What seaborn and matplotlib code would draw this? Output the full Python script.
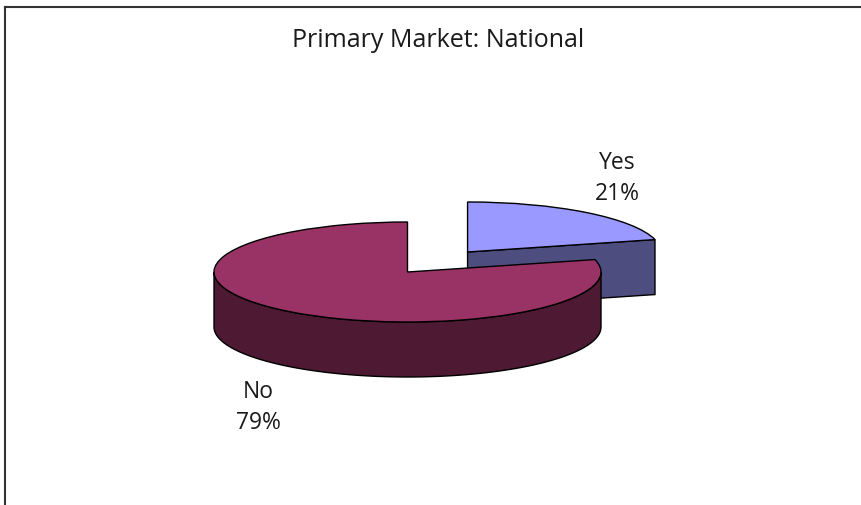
"""
3D looking pie chart - primary market share, national.
"""

import matplotlib
matplotlib.use("Agg")
import matplotlib.pyplot as plt
import numpy as np
import seaborn as sns

categories = ["Yes", "No"]
shares = [21, 79]
title = "Primary Market: National"

top_colors = ["#9999ff", "#993366"]
side_colors = ["#4d4d80", "#4d1933"]

W, H = 862, 506
RX, RY = 193.5, 50.0
DEPTH_PX = 55
SQUASH = RX / RY  # one pixel in y is this many data units


def py(pixel_y):
    # image pixel row to data y
    return (H - pixel_y) * SQUASH


sns.set_theme(style="white")
plt.rcParams["font.family"] = ["Open Sans", "DejaVu Sans"]

fig = plt.figure(figsize=(W / 100, H / 100), dpi=100)
ax = fig.add_axes([5 / W, 0, 1 - 5 / W, 498 / H])

wedges, _ = ax.pie(
    shares,
    colors=top_colors,
    startangle=90,
    counterclock=False,
    radius=RX,
    center=(407.5, py(273)),
    explode=[98, 0],
    wedgeprops={"edgecolor": "black", "linewidth": 1.0},
)
ax.set_aspect("auto")
ax.set_xlim(5, W)
ax.set_ylim(0, py(8))
ax.set_frame_on(True)
ax.set_xticks([])
ax.set_yticks([])
sns.despine(ax=ax, top=False, left=False, right=True, bottom=True)
for side in ("top", "left"):
    ax.spines[side].set_visible(True)
    ax.spines[side].set_color("#333333")
    ax.spines[side].set_linewidth(1.5)

depth = DEPTH_PX * SQUASH
for i, w in enumerate(wedges):
    cx, cy = w.center
    w.set_zorder(2 * i + 2)
    a1, a2 = sorted([w.theta1, w.theta2])
    # the cut face of the exploded slice, seen from the front
    if i == 0:
        px_end = cx + w.r * np.cos(np.radians(a1))
        py_end = cy + w.r * np.sin(np.radians(a1))
        ax.fill(
            [cx, px_end, px_end, cx],
            [cy, py_end, py_end - depth, cy - depth],
            facecolor=side_colors[i],
            edgecolor="black",
            linewidth=1.0,
            zorder=2 * i + 1,
        )
    # outer wall, only the front half of the rim shows
    lo, hi = max(a1, -180), min(a2, 0)
    if lo < hi:
        t = np.radians(np.linspace(lo, hi, 120))
        xs = cx + w.r * np.cos(t)
        ys = cy + w.r * np.sin(t)
        ax.fill(
            np.r_[xs, xs[::-1]],
            np.r_[ys, ys[::-1] - depth],
            facecolor=side_colors[i],
            edgecolor="black",
            linewidth=1.0,
            zorder=2 * i + 1,
        )

text_kw = {"ha": "center", "va": "baseline", "color": "#1a1a1a", "fontsize": 16.5}
ax.text(438.5, py(47), title, **{**text_kw, "fontsize": 18})
label_pos = [(617, 200), (258.5, 429)]
for cat, val, (lx, ly) in zip(categories, shares, label_pos):
    ax.text(lx, py(ly), f"{cat}\n{val}%", linespacing=1.4, multialignment="center", **text_kw)

fig.savefig("out.png", dpi=100, facecolor="white")
